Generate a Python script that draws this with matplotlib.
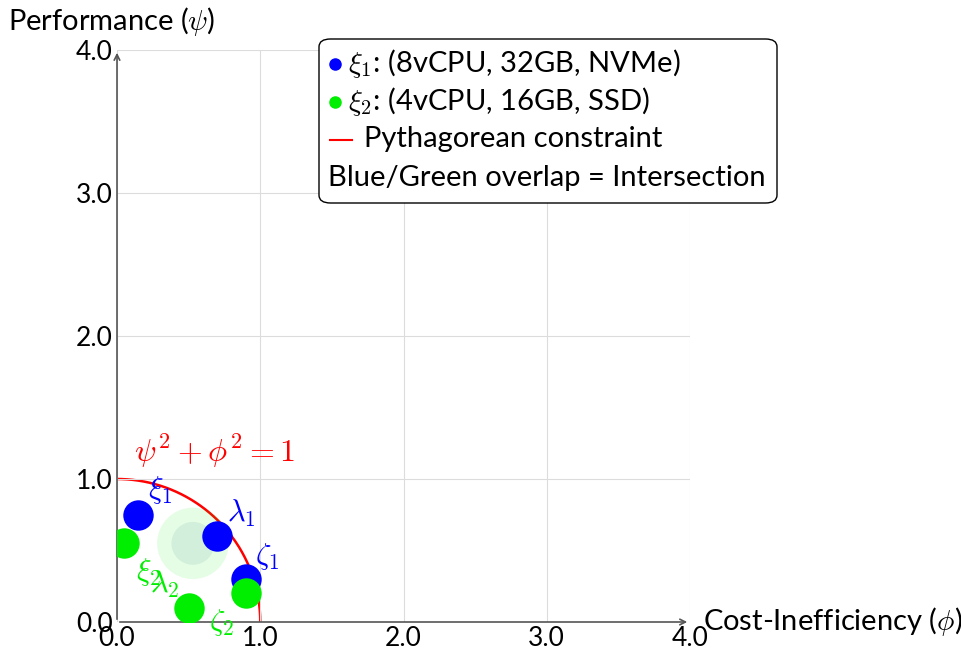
import numpy as np
import matplotlib.pyplot as plt
from matplotlib.lines import Line2D
from matplotlib.patches import Circle, FancyBboxPatch

plt.rcParams['font.family'] = ['Lato', 'DejaVu Sans']
plt.rcParams['mathtext.fontset'] = 'cm'

# Data
blue_x = [0.15, 0.7, 0.9]
blue_y = [0.75, 0.6, 0.3]
blue_labels = [r'$\xi_1$', r'$\lambda_1$', r'$\zeta_1$']
blue_label_pos = [(0.3, 0.92), (0.87, 0.76), (1.05, 0.46)]

green_x = [0.05, 0.5, 0.9]
green_y = [0.55, 0.1, 0.2]
green_labels = [r'$\xi_2$', r'$\lambda_2$', r'$\zeta_2$']
green_label_pos = [(0.22, 0.35), (0.33, 0.26), (0.73, 0.0)]

overlap_center = (0.53, 0.55)
overlap_radii = [0.25, 0.15]

ticks = [0, 1, 2, 3, 4]
tick_labels = ['0.0', '1.0', '2.0', '3.0', '4.0']

BLUE = '#0000ff'
GREEN = '#00ee00'

fig = plt.figure(figsize=(9.61, 6.56), dpi=100)
ax = fig.add_axes([117 / 961, 34 / 656, 573 / 961, 572 / 656])
ax.set_xlim(0, 4)
ax.set_ylim(0, 4)

ax.set_xticks(ticks)
ax.set_yticks(ticks)
ax.set_xticklabels(tick_labels, fontsize=19)
ax.set_yticklabels(tick_labels, fontsize=19)
ax.tick_params(length=0, pad=3)
ax.grid(True, color='#dcdcdc', lw=0.8)
for s in ax.spines.values():
    s.set_visible(False)

# axes with arrows
ax.annotate('', xy=(4.0, 0), xytext=(0, 0), arrowprops=dict(arrowstyle='->', color='#555555', lw=1.2), annotation_clip=False)
ax.annotate('', xy=(0, 4.0), xytext=(0, 0), arrowprops=dict(arrowstyle='->', color='#555555', lw=1.2), annotation_clip=False)

# overlap region
ax.add_patch(Circle(overlap_center, overlap_radii[0], color=GREEN, alpha=0.1, lw=0, zorder=2))
ax.add_patch(Circle(overlap_center, overlap_radii[1], color='#4a8a9a', alpha=0.12, lw=0, zorder=2))

# Pythagorean constraint
theta = np.linspace(0, np.pi / 2, 200)
ax.plot(np.cos(theta), np.sin(theta), color='red', lw=1.8, zorder=1)
ax.text(0.12, 1.12, r'$\psi^2 + \phi^2 = 1$', color='red', fontsize=23)

ax.scatter(blue_x, blue_y, s=480, color=BLUE, zorder=3, lw=0)
ax.scatter(green_x, green_y, s=480, color=GREEN, zorder=4, lw=0)

for lab, (px, py) in zip(blue_labels, blue_label_pos):
    ax.text(px, py, lab, color=BLUE, fontsize=22, ha='center', va='center', zorder=5)
for lab, (px, py) in zip(green_labels, green_label_pos):
    ax.text(px, py, lab, color=GREEN, fontsize=22, ha='center', va='center', zorder=5)

# axis labels
fig.text(8 / 961, 1 - 22 / 656, r'Performance ($\psi$)', fontsize=21, va='center', ha='left')
fig.text(703 / 961, 1 - 622 / 656, r'Cost-Inefficiency ($\phi$)', fontsize=21, va='center', ha='left')

# legend box
W, H = 961, 656
box = FancyBboxPatch((319 / W, 1 - 203 / H), 458 / W, 164 / H,
                     boxstyle='round,pad=0,rounding_size=0.012',
                     transform=fig.transFigure, fc='white', ec='black', lw=1.0, zorder=10)
fig.add_artist(box)
fig.add_artist(Line2D([335 / W], [1 - 64 / H], marker='o', ms=8, color=BLUE, ls='none', transform=fig.transFigure, zorder=11))
fig.add_artist(Line2D([335 / W], [1 - 102 / H], marker='o', ms=8, color=GREEN, ls='none', transform=fig.transFigure, zorder=11))
fig.add_artist(Line2D([330 / W, 352 / W], [1 - 140 / H] * 2, color='red', lw=1.5, transform=fig.transFigure, zorder=11))
legend_texts = [r'$\xi_1$: (8vCPU, 32GB, NVMe)', r'$\xi_2$: (4vCPU, 16GB, SSD)',
                'Pythagorean constraint', 'Blue/Green overlap = Intersection']
legend_xy = [(348, 63), (348, 101), (364, 139), (328, 178)]
for t, (tx, ty) in zip(legend_texts, legend_xy):
    fig.text(tx / W, 1 - ty / H, t, fontsize=21, va='center', ha='left', zorder=12)

fig.savefig('out.png', dpi=100)
